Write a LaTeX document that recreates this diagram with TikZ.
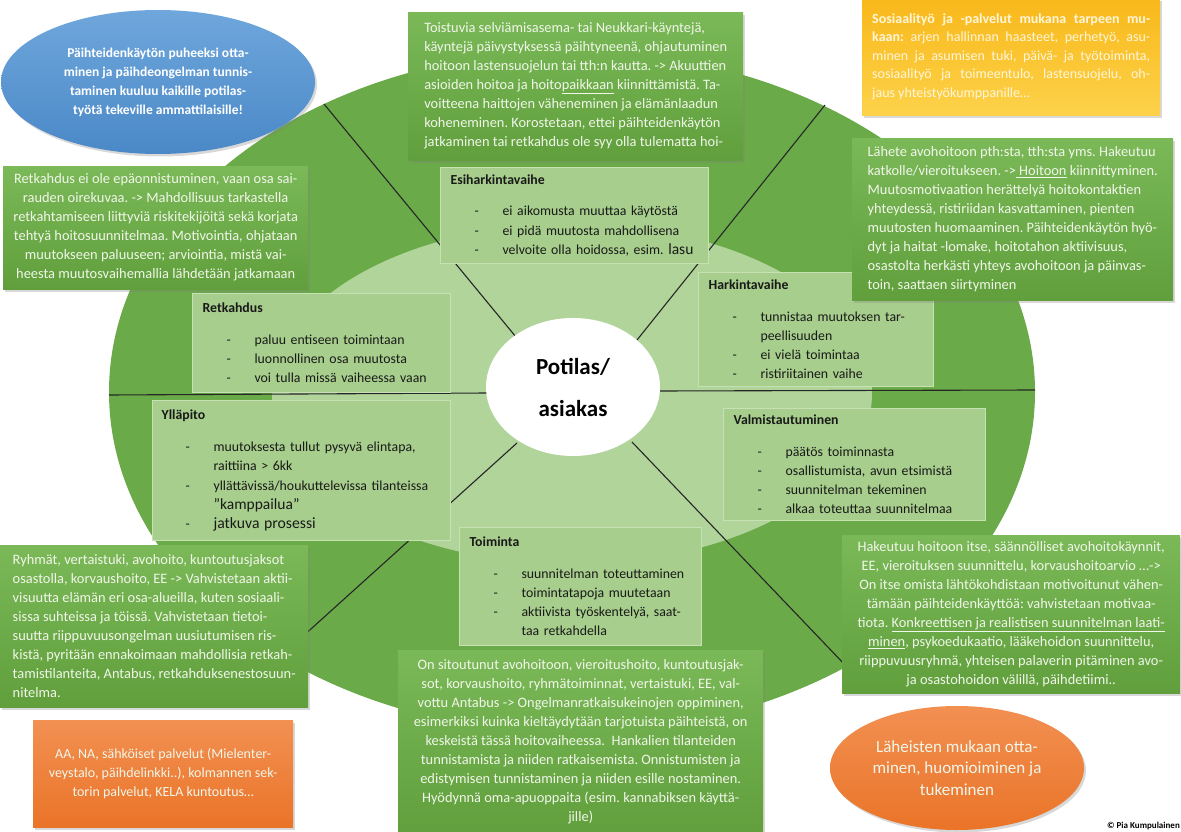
\documentclass[tikz,border=0pt]{standalone}
\usepackage{fontspec}
\setmainfont{Carlito}
\usetikzlibrary{shapes.geometric, shadows}
\frenchspacing

\definecolor{vihrea}{HTML}{6AAA48}
\definecolor{vaalea}{HTML}{B0D49A}
\definecolor{vaihevari}{HTML}{A7CE8C}
\definecolor{vaiheraja}{HTML}{C6E1B4}
\definecolor{ylavihrea}{HTML}{7BB958}
\definecolor{alavihrea}{HTML}{609F3C}
\definecolor{vaaleateksti}{HTML}{F1F6EA}
\definecolor{sinia}{HTML}{6FA7DC}
\definecolor{sinib}{HTML}{4A88C7}
\definecolor{oranssia}{HTML}{F29052}
\definecolor{oranssib}{HTML}{EA7428}
\definecolor{keltaa}{HTML}{F8B81A}
\definecolor{keltab}{HTML}{FDD24A}
\definecolor{keltateksti}{HTML}{FFF6DA}

\newcommand{\kohta}{\hspace*{24pt}\makebox[28pt][l]{-}}
\newcommand{\jatko}{\hspace*{52pt}}

\begin{document}
\begin{tikzpicture}[x=1pt, y=-1pt,
  varjo/.style={drop shadow={opacity=0.3, shadow xshift=2pt, shadow yshift=-2.5pt}},
  laatikko/.style={rectangle, anchor=north west, inner xsep=4pt, inner ysep=0pt, top color=ylavihrea, bottom color=alavihrea, text=vaaleateksti, varjo, font=\fontsize{14.4}{19}\selectfont},
  vaihelaatikko/.style={rectangle, anchor=north west, inner xsep=10pt, inner ysep=0pt, fill=vaihevari, draw=vaiheraja, line width=1.2pt, align=left, text=black!90, font=\fontsize{13.8}{19.3}\selectfont},
  puola/.style={line width=1.1pt, draw=black!85}]
\fill[white] (0,0) rectangle (1181,832);
\useasboundingbox (0,0) rectangle (1181,832);

\fill[vihrea] (572,392) ellipse [x radius=463pt, y radius=341pt];
\fill[vaalea] (572,394) ellipse [x radius=300pt, y radius=170pt];

\draw[puola] (324,104) -- (516,337);
\draw[puola] (825,105) -- (637,340);
\draw[puola] (281,656) -- (517,443);
\draw[puola] (846,666) -- (632,442);
\draw[puola] (109,395) -- (488,393);
\draw[puola] (1035,390) -- (658,391);

\node[ellipse, fill=white, minimum width=174pt, minimum height=138pt, inner sep=0pt, align=center, font=\bfseries\fontsize{23}{42}\selectfont] (potilas) at (573,387) {Potilas/\\asiakas};

% muutosvaiheet
\node[vaihelaatikko, text width=248pt, minimum height=96pt] (esi) at (440,167) {\textbf{Esiharkintavaihe}\\[12pt]
\kohta ei aikomusta muuttaa käytöstä\\
\kohta ei pidä muutosta mahdollisena\\
\kohta velvoite olla hoidossa, esim. {\fontsize{15.5}{19}\selectfont lasu}};
\node[vaihelaatikko, text width=215pt, minimum height=114pt] (harkinta) at (698,272) {\textbf{Harkintavaihe}\\[12pt]
\kohta tunnistaa muutoksen tar-\\
\jatko peellisuuden\\
\kohta ei vielä toimintaa\\
\kohta ristiriitainen vaihe};
\node[vaihelaatikko, text width=242pt, minimum height=112pt] (valmis) at (723,408) {\textbf{Valmistautuminen}\\[12pt]
\kohta päätös toiminnasta\\
\kohta osallistumista, avun etsimistä\\
\kohta suunnitelman tekeminen\\
\kohta alkaa toteuttaa suunnitelmaa};
\node[vaihelaatikko, text width=222pt, minimum height=118pt] (toiminta) at (459,527) {\textbf{Toiminta}\\[12pt]
\kohta suunnitelman toteuttaminen\\
\kohta toimintatapoja muutetaan\\
\kohta aktiivista työskentelyä, saat-\\
\jatko taa retkahdella};
\node[vaihelaatikko, text width=238pt, minimum height=99pt] (retkahdus) at (192,293) {\textbf{Retkahdus}\\[12pt]
\kohta paluu entiseen toimintaan\\
\kohta luonnollinen osa muutosta\\
\kohta voi tulla missä vaiheessa vaan};
\node[vaihelaatikko, inner xsep=9pt, text width=280pt, minimum height=140pt] (yllapito) at (152,400) {\textbf{Ylläpito}\\[13pt]
\kohta muutoksesta tullut pysyvä elintapa,\\
\jatko raittiina > 6kk\\
\kohta yllättävissä/houkuttelevissa tilanteissa\\
\jatko {\fontsize{15.5}{19}\selectfont ”kamppailua”}\\
\kohta {\fontsize{15.7}{19}\selectfont jatkuva prosessi}};

% hoidon sisällöt
\node[laatikko, minimum width=335pt, minimum height=148pt, align=left] (akuutti) at (408,12) {Toistuvia selviämisasema- tai Neukkari-käyntejä,\\
käyntejä päivystyksessä päihtyneenä, ohjautuminen\\
hoitoon lastensuojelun tai tth:n kautta. -> Akuuttien\\
asioiden hoitoa ja hoito\underline{paikkaan} kiinnittämistä. Ta-\\
voitteena haittojen väheneminen ja elämänlaadun\\
koheneminen. Korostetaan, ettei päihteidenkäytön\\
jatkaminen tai retkahdus ole syy olla tulematta hoi-};
\node[laatikko, minimum width=321pt, minimum height=162pt, align=left] (lahete) at (852,138) {Lähete avohoitoon pth:sta, tth:sta yms. Hakeutuu\\
katkolle/vieroitukseen. ->\underline{\ Hoitoon} kiinnittyminen.\\
Muutosmotivaation herättelyä hoitokontaktien\\
yhteydessä, ristiriidan kasvattaminen, pienten\\
muutosten huomaaminen. Päihteidenkäytön hyö-\\
dyt ja haitat -lomake, hoitotahon aktiivisuus,\\
osastolta herkästi yhteys avohoitoon ja päinvas-\\
toin, saattaen siirtyminen};
\node[laatikko, minimum width=305pt, minimum height=123pt, align=center] (retkteksti) at (3,166) {Retkahdus ei ole epäonnistuminen, vaan osa sai-\\
rauden oirekuvaa. -> Mahdollisuus tarkastella\\
retkahtamiseen liittyviä riskitekijöitä sekä korjata\\
tehtyä hoitosuunnitelmaa. Motivointia, ohjataan\\
muutokseen paluuseen; arviointia, mistä vai-\\
heesta muutosvaihemallia lähdetään jatkamaan};
\node[laatikko, minimum width=308pt, minimum height=162pt, align=left] (ryhmat) at (0,545) {Ryhmät, vertaistuki, avohoito, kuntoutusjaksot\\
osastolla, korvaushoito, EE -> Vahvistetaan aktii-\\
visuutta elämän eri osa-alueilla, kuten sosiaali-\\
sissa suhteissa ja töissä. Vahvistetaan tietoi-\\
suutta riippuvuusongelman uusiutumisen ris-\\
kistä, pyritään ennakoimaan mahdollisia retkah-\\
tamistilanteita, Antabus, retkahduksenestosuun-\\
nitelma.};
\node[laatikko, minimum width=338pt, minimum height=158pt, align=center] (hakeutuu) at (842,535) {Hakeutuu hoitoon itse, säännölliset avohoitokäynnit,\\
EE, vieroituksen suunnittelu, korvaushoitoarvio …->\\
On itse omista lähtökohdistaan motivoitunut vähen-\\
tämään päihteidenkäyttöä: vahvistetaan motivaa-\\
tiota. \underline{Konkreettisen ja realistisen suunnitelman laati-}\\
\underline{minen}, psykoedukaatio, lääkehoidon suunnittelu,\\
riippuvuusryhmä, yhteisen palaverin pitäminen avo-\\
ja osastohoidon välillä, päihdetiimi..};
\node[laatikko, minimum width=365pt, minimum height=184pt, align=center] (sitoutunut) at (398,650) {On sitoutunut avohoitoon, vieroitushoito, kuntoutusjak-\\
sot, korvaushoito, ryhmätoiminnat, vertaistuki, EE, val-\\
vottu Antabus -> Ongelmanratkaisukeinojen oppiminen,\\
esimerkiksi kuinka kieltäydytään tarjotuista päihteistä, on\\
keskeistä tässä hoitovaiheessa.\ \ Hankalien tilanteiden\\
tunnistamista ja niiden ratkaisemista. Onnistumisten ja\\
edistymisen tunnistaminen ja niiden esille nostaminen.\\
Hyödynnä oma-apuoppaita (esim. kannabiksen käyttä-\\
jille)};

% muut toimijat
\node[rectangle, anchor=north west, inner xsep=10pt, inner ysep=0pt, text width=278pt, minimum height=117pt, align=justify, top color=keltaa, bottom color=keltab, text=keltateksti, varjo, font=\fontsize{14}{18.5}\selectfont] (sosiaali) at (862,-2) {\textbf{Sosiaalityö ja -palvelut mukana tarpeen mu-\linebreak kaan:} arjen hallinnan haasteet, perhetyö, asu-\linebreak minen ja asumisen tuki, päivä- ja työtoiminta,\linebreak sosiaalityö ja toimeentulo, lastensuojelu, oh-\linebreak jaus yhteistyökumppanille…};
\node[rectangle, anchor=north west, inner xsep=4pt, inner ysep=0pt, minimum width=260pt, minimum height=107pt, align=center, top color=oranssia, bottom color=oranssib, text=vaaleateksti, varjo, font=\fontsize{14}{19}\selectfont] (kolmas) at (33,720) {AA, NA, sähköiset palvelut (Mielenter-\\
veystalo, päihdelinkki..), kolmannen sek-\\
torin palvelut, KELA kuntoutus…};
\node[ellipse, minimum width=314pt, minimum height=144pt, inner sep=0pt, top color=sinia, bottom color=sinib, varjo, text=white, align=center, font=\bfseries\fontsize{13.5}{19}\selectfont] (puheeksi) at (158,82) {Päihteidenkäytön puheeksi otta-\\
minen ja päihdeongelman tunnis-\\
taminen kuuluu kaikille potilas-\\
työtä tekeville ammattilaisille!};
\node[ellipse, minimum width=254pt, minimum height=124pt, inner sep=0pt, top color=oranssia, bottom color=oranssib, varjo, text=vaaleateksti, align=center, font=\fontsize{17}{21.5}\selectfont] (laheiset) at (957,768) {Läheisten mukaan otta-\\
minen, huomioiminen ja\\
tukeminen};

\node[anchor=south east, inner sep=0pt, font=\bfseries\fontsize{9}{11}\selectfont] (tekija) at (1180,830) {© Pia Kumpulainen};
\end{tikzpicture}
\end{document}
